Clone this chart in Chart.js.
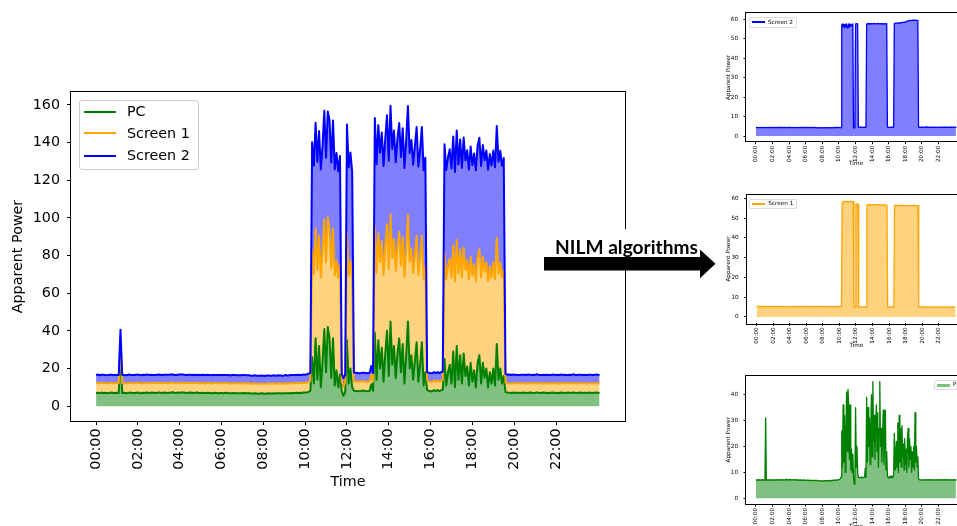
<!DOCTYPE html>
<html><head><meta charset="utf-8">
<script src="https://cdn.jsdelivr.net/npm/chart.js@4.4.0/dist/chart.umd.min.js"></script>
<style>
html,body{margin:0;padding:0;background:#fff;}
body{width:957px;height:526px;overflow:hidden;position:relative;font-family:'DejaVu Sans',sans-serif;}
canvas{position:absolute;}
.leg{position:absolute;border:1px solid #ccc;border-radius:3px;background:rgba(255,255,255,0.85);box-sizing:border-box;z-index:3;overflow:hidden;}
.leg div{position:absolute;}
.leg span{position:absolute;white-space:nowrap;color:#000;}
</style></head><body>
<canvas id="cMain" width="640" height="526" style="left:0;top:0;width:640px;height:526px"></canvas>
<canvas id="cS2" width="280" height="180" style="left:700px;top:0;width:280px;height:180px"></canvas>
<canvas id="cS1" width="280" height="180" style="left:700px;top:180px;width:280px;height:180px"></canvas>
<canvas id="cPC" width="280" height="200" style="left:700px;top:360px;width:280px;height:200px"></canvas>
<svg width="957" height="526" style="position:absolute;left:0;top:0;z-index:5">
<rect x="549" y="229" width="158" height="27.5" fill="#fff"/>
<text x="555" y="254.3" font-family="Lato" font-weight="bold" font-size="18.5" textLength="143" lengthAdjust="spacingAndGlyphs" fill="#000">NILM algorithms</text>
<polygon points="544,257 700,257 700,249.5 715.5,263.8 700,278.3 700,270.5 544,270.5" fill="#000"/>
</svg>
<script>
// ---------- data (5-minute samples, hours 0 .. 24.08) ----------
const seriesNames = ['PC', 'Screen 1', 'Screen 2'];
const tickHours = [0, 2, 4, 6, 8, 10, 12, 14, 16, 18, 20, 22];
const tickLabels = ['00:00','02:00','04:00','06:00','08:00','10:00','12:00','14:00','16:00','18:00','20:00','22:00'];
const yTicksMain = [0, 20, 40, 60, 80, 100, 120, 140, 160];
const yTicksScreen = [0, 10, 20, 30, 40, 50, 60];
const yTicksPC = [0, 10, 20, 30, 40];
const times = Array.from({length: 290}, (_, i) => i * 5 / 60);

const pc = [
7.0,7.1,6.9,7.2,7.0,7.1,7.0,6.9,7.1,7.2,7.0,7.0,7.1,6.9,
31,
7.0,7.1,7.0,6.9,7.2,7.1,7.0,7.0,7.1,7.2,7.0,6.9,7.1,7.0,7.2,
7.1,7.0,7.2,7.1,7.0,7.1,7.3,7.1,7.0,7.2,7.1,7.0,7.1,7.2,7.4,7.1,7.0,7.2,7.1,7.3,7.2,7.1,7.0,7.1,7.2,7.1,7.0,7.1,7.2,7.0,
7.0,7.1,6.9,7.0,7.1,7.0,6.9,7.0,7.1,7.0,6.9,7.0,7.0,6.9,7.0,7.1,6.9,6.8,6.9,7.0,6.9,6.8,6.9,6.8,6.9,7.0,6.8,6.9,6.8,6.7,
6.7,6.8,6.7,6.6,6.7,6.8,6.7,6.6,6.7,6.8,6.7,6.7,6.8,6.7,6.8,6.9,6.8,6.7,6.8,6.9,6.8,6.9,7.0,6.9,7.0,7.1,7.0,7.1,7.0,7.2,
7.2,7.3,7.6,8.2,
26,12,36,14,32,10,24,41,18,42,36,15,36,11,19,10,17,
8,5.5,7.5,
35,12,20,10,
8.2,8.0,8.1,7.9,8.0,8.3,8.1,7.9,8.0,8.2,11.6,8.1,
39,14,35,20,31,13,28,40,16,45,22,32,15,28,36,18,33,12,27,45,20,27,14,24,34,13,22,34,11,18,
8.5,8.2,7.8,8.0,8.5,7.9,8.6,8.0,8.4,8.8,
25,11,18,22,12,29,10,32,14,27,12,28,16,21,11,23,13,19,10,23,27,12,23,15,20,10,18,12,20,11,33,14,20,12,16,
7.5,7.2,7.1,7.0,7.1,7.2,7.0,7.1,7.1,7.0,7.2,7.1,7.0,7.1,7.2,7.1,7.0,7.1,7.3,7.1,
7.0,7.1,7.2,7.0,7.1,7.0,7.1,7.2,7.1,7.0,7.1,7.0,7.2,7.1,7.0,7.1,7.2,7.1,7.0,7.3,
7.1,7.0,7.1,7.2,7.0,7.1,7.1,7.0,7.2,7.1,7.0,7.1,7.2,7.1,7.0
];

const screen1 = [
5.2,5.3,5.2,5.2,5.3,5.2,5.1,5.2,5.3,5.2,5.2,5.3,
5.2,5.2,5.3,5.2,5.2,5.1,5.2,5.3,5.2,5.2,5.2,5.3,
5.2,5.3,5.2,5.2,5.2,5.3,5.2,5.2,5.1,5.2,5.3,5.2,
5.2,5.2,5.3,5.2,5.2,5.2,5.3,5.2,5.2,5.1,5.2,5.2,
5.3,5.2,5.2,5.2,5.3,5.2,5.2,5.2,5.3,5.2,5.2,5.2,
5.2,5.3,5.2,5.2,5.2,5.3,5.2,5.2,5.2,5.3,5.2,5.2,
5.2,5.2,5.3,5.2,5.2,5.2,5.3,5.2,5.2,5.3,5.2,5.2,
5.3,5.2,5.2,5.2,5.3,5.2,5.2,5.3,5.2,5.2,5.2,5.3,
5.2,5.2,5.3,5.2,5.2,5.2,5.3,5.2,5.2,5.2,5.3,5.2,
5.2,5.3,5.2,5.2,5.2,5.3,5.2,5.2,5.3,5.2,5.2,5.2,
5.2,5.3,5.2,5.2,57.2,58.2,58.4,58.3,58.4,58.3,58.4,58.3,
58.4,58.3,58.2,58.4,58.3,58.4,58.3,58.2,58.3,5.0,5.1,5.0,
57.0,57.1,57.0,56.9,5.0,5.1,5.0,5.0,5.1,5.0,5.0,5.1,
5.0,5.0,5.1,5.0,56.6,56.8,56.7,56.8,56.7,56.8,56.7,56.8,
56.7,56.8,56.7,56.7,56.8,56.7,56.6,56.7,56.8,56.7,56.6,56.7,
56.7,56.6,56.7,56.6,56.5,56.6,56.5,56.6,56.5,56.4,5.0,5.0,
5.1,5.0,5.0,5.1,5.0,5.0,5.1,5.0,56.3,56.4,56.3,56.4,
56.3,56.4,56.3,56.3,56.4,56.3,56.4,56.3,56.3,56.4,56.3,56.3,
56.3,56.4,56.3,56.3,56.4,56.3,56.3,56.4,56.3,56.3,56.4,56.3,
56.3,56.4,56.3,56.3,56.2,56.3,56.3,5.1,5.0,5.1,5.0,5.1,
5.0,5.1,5.0,5.0,5.1,5.0,4.9,5.0,5.1,5.0,5.0,5.1,
5.0,5.0,5.1,5.0,4.9,5.0,5.0,5.1,5.0,5.0,5.1,5.0,
5.0,5.1,5.0,5.0,5.0,5.1,5.0,4.9,5.0,5.1,5.0,5.0,
5.1,5.0,5.0,5.1,5.0,5.0,4.9,5.0,5.1,5.0,5.0,5.1,
5.0,5.0
];

const screen2 = [
4.3,4.4,4.3,4.3,4.4,4.3,4.3,4.4,4.3,4.3,4.4,4.3,
4.3,4.4,4.3,4.5,4.3,4.3,4.4,4.3,4.3,4.4,4.3,4.3,
4.4,4.3,4.3,4.4,4.3,4.3,4.4,4.3,4.4,4.3,4.3,4.4,
4.3,4.4,4.3,4.3,4.4,4.5,4.3,4.4,4.3,4.3,4.4,4.3,
4.4,4.3,4.4,4.3,4.3,4.4,4.3,4.3,4.4,4.3,4.3,4.4,
4.3,4.3,4.4,4.3,4.4,4.3,4.3,4.4,4.3,4.3,4.4,4.3,
4.3,4.4,4.3,4.3,4.4,4.3,4.3,4.3,4.4,4.3,4.3,4.4,
4.3,4.3,4.4,4.3,4.3,4.2,4.3,4.3,4.2,4.3,4.3,4.2,
4.3,4.2,4.3,4.3,4.2,4.3,4.3,4.2,4.3,4.3,4.2,4.3,
4.3,4.3,4.2,4.3,4.3,4.4,4.3,4.3,4.4,4.3,4.3,4.4,
4.3,4.3,4.4,4.3,57.0,57.6,56.2,57.5,55.8,57.4,56.0,57.6,
55.6,56.3,57.7,56.0,57.5,56.4,57.2,56.6,57.6,4.2,4.3,4.2,
57.6,57.8,57.7,57.6,4.5,4.6,4.5,4.6,4.5,4.5,4.6,4.5,
4.6,4.5,4.6,4.5,57.5,57.8,57.6,57.9,57.7,57.8,57.6,57.8,
57.7,57.8,57.9,57.7,57.8,57.6,57.8,57.7,57.9,57.8,57.7,57.8,
57.7,57.8,57.6,57.7,57.8,57.7,57.6,57.7,57.8,57.6,4.6,4.5,
4.6,4.5,4.5,4.6,4.5,4.6,4.5,4.5,57.8,58.0,57.9,58.1,
58.0,57.9,58.1,58.2,58.0,58.3,58.2,58.4,58.3,58.5,58.4,58.6,
58.7,58.8,59.0,59.1,59.2,59.3,59.4,59.3,59.5,59.4,59.5,59.6,
59.5,59.6,59.5,59.6,59.5,59.4,59.5,4.6,4.5,4.6,4.5,4.6,
4.5,4.6,4.5,4.5,4.6,4.5,4.7,4.5,4.6,4.5,4.5,4.6,
4.5,4.6,4.5,4.6,4.5,4.5,4.6,4.5,4.6,4.5,4.5,4.6,
4.6,4.5,4.5,4.6,4.5,4.6,4.5,4.5,4.6,4.5,4.6,4.5,
4.5,4.6,4.5,4.5,4.6,4.5,4.6,4.5,4.5,4.6,4.5,4.5,
4.6,4.5
];

// ---------- styling ----------
const lineColors = {'PC': '#008000', 'Screen 1': '#ffa500', 'Screen 2': '#0000ff'};
const fillColors = {'PC': '#80c080', 'Screen 1': '#ffd280', 'Screen 2': '#8080ff'};

const pts = arr => arr.map((y, i) => ({x: times[i], y}));
const s1Top = screen1.map((v, i) => v + pc[i]);
const s2Top = screen2.map((v, i) => v + s1Top[i]);

const framePlugin = {
  id: 'frame',
  afterDatasetsDraw(chart) {
    const {ctx, chartArea: a} = chart;
    ctx.save();
    ctx.strokeStyle = '#000';
    ctx.lineWidth = 1;
    ctx.strokeRect(Math.round(a.left) - 0.5, Math.round(a.top) - 0.5, Math.round(a.right - a.left) + 1, Math.round(a.bottom - a.top) + 1);
    ctx.restore();
  }
};

function build(id, datasets, c) {
  const font = {family: 'DejaVu Sans', size: c.fs};
  return new Chart(document.getElementById(id), {
    type: 'line',
    data: {datasets},
    plugins: [framePlugin],
    options: {
      responsive: false, animation: false, devicePixelRatio: 1, events: [],
      parsing: false, normalized: true,
      layout: {padding: {top: c.padTop, right: c.padRight, left: 0, bottom: 0}},
      elements: {line: {tension: 0, borderJoinStyle: 'round', borderCapStyle: 'butt'}, point: {radius: 0}},
      plugins: {legend: {display: false}, tooltip: {enabled: false}, filler: {drawTime: 'beforeDatasetsDraw'}},
      scales: {
        x: {
          type: 'linear', min: -1.2, max: c.xMax,
          afterBuildTicks: s => { s.ticks = tickHours.map(v => ({value: v})); },
          ticks: {font, color: '#000', padding: c.xTickPad, autoSkip: false, minRotation: 90, maxRotation: 90,
                  callback: v => tickLabels[tickHours.indexOf(v)] || ''},
          grid: {drawOnChartArea: false, drawTicks: true, tickLength: c.tickLen, tickColor: '#000', tickWidth: 1, lineWidth: 1},
          border: {display: false},
          title: {display: true, text: 'Time', font, color: '#000', padding: {top: 0, bottom: c.xTitlePad}},
          afterFit: s => { s.height = c.xHeight; }
        },
        y: {
          type: 'linear', min: c.yMin, max: c.yMax,
          afterBuildTicks: s => { s.ticks = c.yTicks.map(v => ({value: v})); },
          ticks: {font, color: '#000', padding: c.yTickPad, autoSkip: false, callback: v => String(v)},
          grid: {drawOnChartArea: false, drawTicks: true, tickLength: c.tickLen, tickColor: '#000', tickWidth: 1, lineWidth: 1},
          border: {display: false},
          title: {display: true, text: 'Apparent Power', font, color: '#000', padding: {top: c.yTitlePad, bottom: 0}},
          afterFit: s => { s.width = c.yWidth; }
        }
      }
    }
  });
}

function ds(name, data, fill, bw) {
  return {label: name, data: pts(data), borderColor: lineColors[name], backgroundColor: fillColors[name], fill, borderWidth: bw};
}

// main stacked chart (Screen 2 drawn on top)
build('cMain', [
  ds('Screen 2', s2Top, '+1', 2),
  ds('Screen 1', s1Top, '+1', 2),
  ds('PC', pc, 'origin', 2)
], {fs: 14.3, padTop: 92, padRight: 15, yWidth: 71, xHeight: 105, xMax: 25.3, yMin: -7.9, yMax: 166.9,
    yTicks: yTicksMain, tickLen: 4, yTickPad: 7, xTickPad: 3.5, yTitlePad: 10.2, xTitlePad: 35});

const small = {fs: 5.7, padRight: 14, xMax: 25.3, tickLen: 2.5, yTickPad: 5.5, xTickPad: 1.5, yTitlePad: 25.6};
build('cS2', [ds('Screen 2', screen2, 'origin', 1.3)],
  Object.assign({}, small, {padTop: 13.3, yWidth: 46, xHeight: 38.3, yMin: -2.9, yMax: 63.1, yTicks: yTicksScreen, xTitlePad: 12.6}));
build('cS1', [ds('Screen 1', screen1, 'origin', 1.3)],
  Object.assign({}, small, {padTop: 14.7, yWidth: 46.7, xHeight: 36.7, yMin: -3.2, yMax: 61.8, yTicks: yTicksScreen, xTitlePad: 10.9}));
build('cPC', [ds('PC', pc, 'origin', 1.3)],
  Object.assign({}, small, {padTop: 15.7, yWidth: 46, xHeight: 56, yMin: -2.2, yMax: 47.3, yTicks: yTicksPC, xTitlePad: 30.3}));

// ---------- legends (HTML text) ----------
function legend(o) {
  const box = document.createElement('div');
  box.className = 'leg';
  Object.assign(box.style, {left: o.left + 'px', top: o.top + 'px', width: o.w + 'px', height: o.h + 'px', borderColor: o.border || '#ccc', borderRadius: (o.radius || 3) + 'px'});
  o.items.forEach((it, k) => {
    const cy = o.rows[k];
    const ln = document.createElement('div');
    Object.assign(ln.style, {left: o.sx + 'px', top: Math.round(cy - it.lw / 2) + 'px', width: o.sw + 'px', height: it.lw + 'px', background: it.color});
    const tx = document.createElement('span');
    const lh = o.fs * 1.2;
    Object.assign(tx.style, {left: o.tx + 'px', top: (cy - lh / 2) + 'px', lineHeight: lh + 'px', fontSize: o.fs + 'px'});
    tx.textContent = it.name;
    box.appendChild(ln); box.appendChild(tx);
  });
  document.body.appendChild(box);
}
legend({left: 79, top: 100, w: 120, h: 70, fs: 14.3, sx: 4, sw: 32, tx: 47, rows: [10.7, 32.3, 54.7],
  items: seriesNames.map(n => ({name: n, color: lineColors[n], lw: 2}))});
legend({left: 749, top: 17, w: 48, h: 10.5, fs: 5.7, sx: 1.5, sw: 13, tx: 18, rows: [4.2], border: '#ddd', radius: 1,
  items: [{name: 'Screen 2', color: lineColors['Screen 2'], lw: 1.5}]});
legend({left: 749.3, top: 199, w: 47.5, h: 9.8, fs: 5.7, sx: 1.5, sw: 13, tx: 18, rows: [3.8], border: '#ddd', radius: 1,
  items: [{name: 'Screen 1', color: lineColors['Screen 1'], lw: 1.5}]});
legend({left: 934, top: 380, w: 40, h: 9.8, fs: 5.7, sx: 1.5, sw: 13, tx: 18, rows: [3.8], border: '#ddd', radius: 1,
  items: [{name: 'PC', color: fillColors['PC'], lw: 2.5}]});
</script>
</body></html>
